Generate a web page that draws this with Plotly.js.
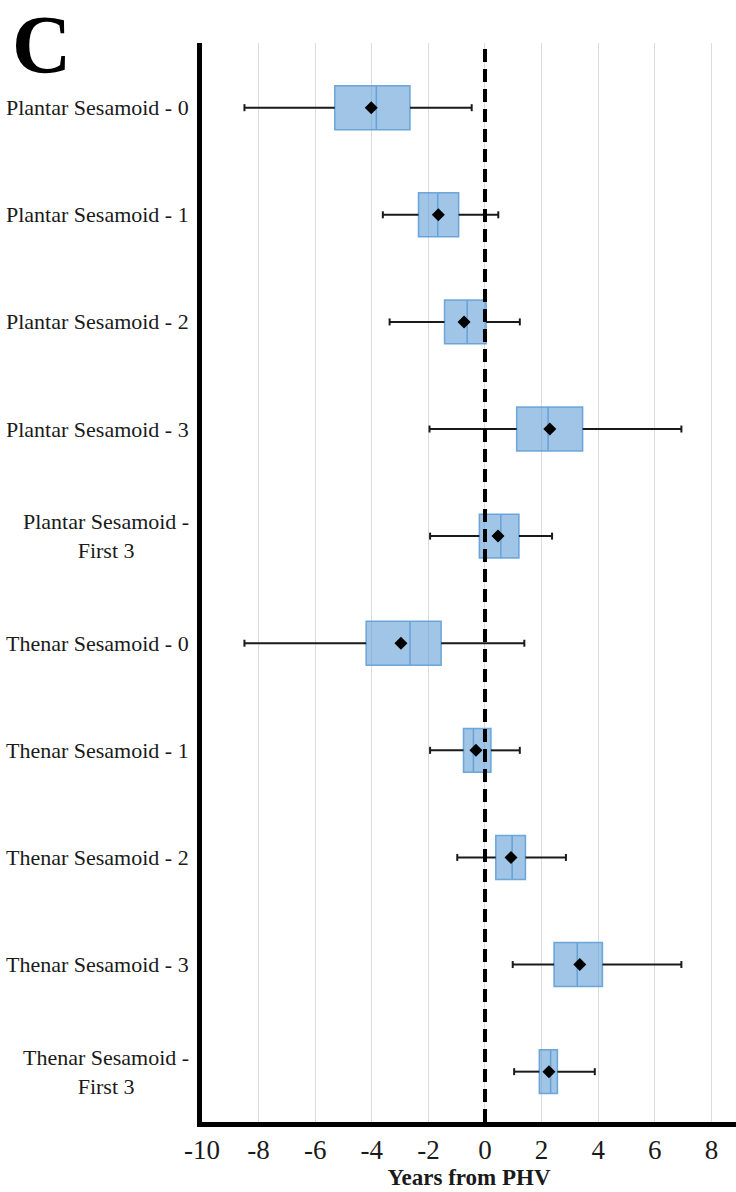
<!DOCTYPE html>
<html>
<head>
<meta charset="utf-8">
<script src="https://cdn.plot.ly/plotly-3.0.1.min.js"></script>
<style>
  html, body { margin: 0; padding: 0; background: #fff; }
  #chart { width: 736px; height: 1192px; }
</style>
</head>
<body>
<div id="chart"></div>
<script>
// ---- Data ----
var categories = [
  "Plantar Sesamoid - 0",
  "Plantar Sesamoid - 1",
  "Plantar Sesamoid - 2",
  "Plantar Sesamoid - 3",
  "Plantar Sesamoid -<br>First 3",
  "Thenar Sesamoid - 0",
  "Thenar Sesamoid - 1",
  "Thenar Sesamoid - 2",
  "Thenar Sesamoid - 3",
  "Thenar Sesamoid -<br>First 3"
];
var whiskerLow  = [-8.50, -3.61, -3.37, -1.96, -1.94, -8.50, -1.94, -0.98, 0.98, 1.03];
var q1Values    = [-5.31, -2.35, -1.43,  1.12, -0.20, -4.20, -0.76,  0.38, 2.44, 1.92];
var medianValues= [-3.84, -1.67, -0.63,  2.23,  0.56, -2.65, -0.41,  0.96, 3.26, 2.32];
var q3Values    = [-2.65, -0.93,  0.04,  3.45,  1.20, -1.55,  0.21,  1.43, 4.15, 2.56];
var whiskerHigh = [-0.47,  0.47,  1.23,  6.94,  2.37,  1.39,  1.23,  2.86, 6.94, 3.88];
var meanValues  = [-4.02, -1.65, -0.74,  2.29,  0.46, -2.97, -0.32,  0.92, 3.35, 2.26];
var xTickValues = [-10, -8, -6, -4, -2, 0, 2, 4, 6, 8];
var xTickLabels = ["-10", "-8", "-6", "-4", "-2", "0", "2", "4", "6", "8"];
var xAxisTitle = "Years from PHV";
var panelLetter = "C";

var SERIF = "Liberation Serif, Times New Roman, serif";

// ---- Build traces ----
var yPos = categories.map(function (_, i) { return i; });

var boxTrace = {
  type: "box",
  orientation: "h",
  y: yPos,
  q1: q1Values,
  median: medianValues,
  q3: q3Values,
  lowerfence: q1Values,
  upperfence: q3Values,
  width: 0.41,
  whiskerwidth: 0,
  fillcolor: "rgba(91,155,213,0.58)",
  line: { color: "rgba(91,155,213,0.85)", width: 1.5 },
  hoverinfo: "skip",
  showlegend: false
};

var wx = [], wy = [];
for (var i = 0; i < categories.length; i++) {
  wx.push(whiskerLow[i], q1Values[i], null, q3Values[i], whiskerHigh[i], null);
  wy.push(i, i, null, i, i, null);
}
var whiskerTrace = {
  type: "scatter",
  mode: "lines",
  x: wx,
  y: wy,
  line: { color: "#1a1a1a", width: 2 },
  hoverinfo: "skip",
  showlegend: false
};

var capTrace = {
  type: "scatter",
  mode: "markers",
  x: whiskerLow.concat(whiskerHigh),
  y: yPos.concat(yPos),
  marker: { symbol: "line-ns", size: 5, line: { color: "#1a1a1a", width: 2 } },
  hoverinfo: "skip",
  showlegend: false
};

var meanTrace = {
  type: "scatter",
  mode: "markers",
  x: meanValues,
  y: yPos,
  marker: { symbol: "diamond", size: 10, color: "#000" },
  hoverinfo: "skip",
  showlegend: false
};

// ---- Category labels as centered annotations ----
var annotations = categories.map(function (label, i) {
  return {
    xref: "paper", yref: "y",
    x: 0, y: i,
    xanchor: "right", yanchor: "middle",
    xshift: -11,
    text: label,
    showarrow: false,
    align: "center",
    font: { family: SERIF, size: 22, color: "#1a1a1a" }
  };
});
annotations.push({
  xref: "paper", yref: "paper",
  x: -0.30, y: 0.999,
  xanchor: "center", yanchor: "middle",
  text: "<b>" + panelLetter + "</b>",
  showarrow: false,
  font: { family: SERIF, size: 82, color: "#000" }
});

var layout = {
  width: 736,
  height: 1192,
  margin: { l: 202, r: 0, t: 43, b: 70 },
  paper_bgcolor: "#fff",
  plot_bgcolor: "#fff",
  showlegend: false,
  font: { family: SERIF, color: "#1a1a1a" },
  xaxis: {
    range: [-10, 8.87],
    tickmode: "array",
    tickvals: xTickValues,
    ticktext: xTickLabels,
    ticks: "",
    showgrid: true,
    gridcolor: "#dcdcdc",
    gridwidth: 1,
    zeroline: false,
    showline: true,
    linecolor: "#000",
    linewidth: 5,
    tickfont: { family: SERIF, size: 27, color: "#1a1a1a" },
    title: {
      text: "<b>" + xAxisTitle + "</b>",
      font: { family: SERIF, size: 23, color: "#1a1a1a" },
      standoff: 0
    }
  },
  yaxis: {
    range: [9.47, -0.604],
    showticklabels: false,
    ticks: "",
    showgrid: false,
    zeroline: false,
    showline: true,
    linecolor: "#000",
    linewidth: 5
  },
  shapes: [{
    type: "line",
    xref: "x", yref: "paper",
    x0: 0, x1: 0, y0: 0, y1: 1,
    layer: "above",
    line: { color: "#000", width: 4, dash: "13px,7px" }
  }],
  annotations: annotations
};

Plotly.newPlot("chart", [boxTrace, whiskerTrace, capTrace, meanTrace], layout, { staticPlot: true, displayModeBar: false });
</script>
</body>
</html>
